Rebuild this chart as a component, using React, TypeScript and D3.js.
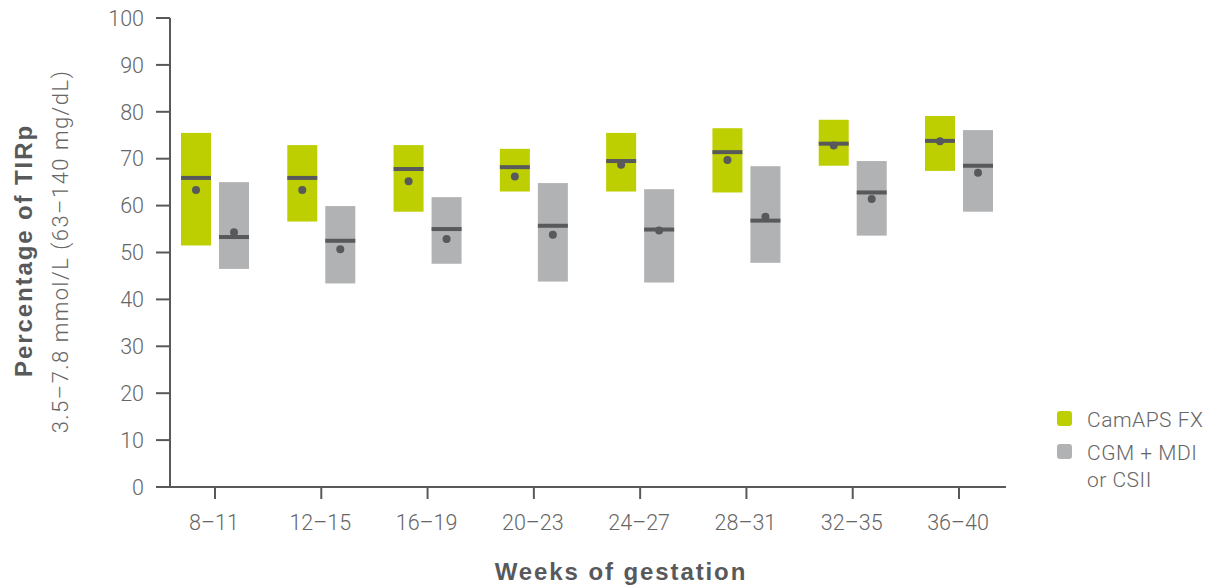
import * as d3 from "d3";

// weeks of gestation
const categories = ["8–11", "12–15", "16–19", "20–23", "24–27", "28–31", "32–35", "36–40"];

// CamAPS FX: interquartile range, median, mean
const camLow = [51.5, 56.6, 58.7, 63.0, 63.0, 62.8, 68.5, 67.4];
const camHigh = [75.5, 72.9, 72.9, 72.1, 75.5, 76.5, 78.3, 79.1];
const camMedian = [65.9, 65.9, 67.8, 68.2, 69.5, 71.4, 73.2, 73.8];
const camMean = [63.3, 63.3, 65.2, 66.2, 68.7, 69.7, 72.8, 73.7];

// CGM + MDI or CSII
const cgmLow = [46.5, 43.4, 47.6, 43.8, 43.6, 47.8, 53.6, 58.7];
const cgmHigh = [65.0, 59.9, 61.8, 64.8, 63.5, 68.4, 69.5, 76.1];
const cgmMedian = [53.3, 52.5, 55.0, 55.7, 54.9, 56.8, 62.8, 68.5];
const cgmMean = [54.3, 50.7, 52.9, 53.8, 54.7, 57.6, 61.4, 67.0];

const yTicks = [0, 10, 20, 30, 40, 50, 60, 70, 80, 90, 100];

const W = 1215;
const H = 587;
const axisColor = "#58595B";
const green = "#BDCF00";
const gray = "#B1B2B3";
const light = "Roboto, 'Liberation Sans', sans-serif";
const bold = "'Liberation Sans', Arial, sans-serif";

export default function App() {
  const x = d3.scalePoint<string>().domain(categories).range([215, 959]);
  const y = d3.scaleLinear().domain([0, 100]).range([487, 18]);
  const boxW = 30;
  const off = 19;

  const series = [
    { color: green, low: camLow, high: camHigh, med: camMedian, mean: camMean, dx: -off },
    { color: gray, low: cgmLow, high: cgmHigh, med: cgmMedian, mean: cgmMean, dx: off },
  ];

  return (
    <svg width={W} height={H} style={{ position: "absolute", left: 0, top: 0, background: "#fff" }}>
      {/* boxes */}
      {series.map((s, si) => (
        <g key={si}>
          {categories.map((c, i) => {
            const cx = (x(c) as number) + s.dx;
            return (
              <g key={c}>
                <rect x={cx - boxW / 2} width={boxW} y={y(s.high[i])} height={y(s.low[i]) - y(s.high[i])} fill={s.color} />
                <rect x={cx - boxW / 2} width={boxW} y={y(s.med[i]) - 2} height={4} fill={axisColor} />
                <circle cx={cx} cy={y(s.mean[i])} r={4} fill={axisColor} />
              </g>
            );
          })}
        </g>
      ))}

      {/* y axis */}
      <line x1={170} x2={170} y1={y(100)} y2={y(0) + 1} stroke={axisColor} strokeWidth={2} />
      {yTicks.map((t) => (
        <g key={t}>
          <line x1={156} x2={170} y1={y(t)} y2={y(t)} stroke={axisColor} strokeWidth={2} />
          <text x={144} y={y(t)} dy="0.36em" textAnchor="end" fontFamily={light} fontWeight={300} fontSize={21.5} fill="#666">
            {t}
          </text>
        </g>
      ))}

      {/* x axis */}
      <line x1={169} x2={1006} y1={y(0)} y2={y(0)} stroke={axisColor} strokeWidth={2} />
      {categories.map((c) => (
        <g key={c}>
          <line x1={x(c)} x2={x(c)} y1={y(0)} y2={y(0) + 12} stroke={axisColor} strokeWidth={2} />
          <text x={(x(c) as number) - 1} y={530} textAnchor="middle" fontFamily={light} fontWeight={300} fontSize={21.5} fill="#666">
            {c}
          </text>
        </g>
      ))}

      {/* axis titles */}
      <text transform="translate(32,250.5) rotate(-90)" textAnchor="middle" fontFamily={bold} fontWeight={700} fontSize={24} letterSpacing={1.9} fill={axisColor}>
        Percentage of TIRp
      </text>
      <text transform="translate(68,251.5) rotate(-90)" textAnchor="middle" fontFamily={light} fontWeight={300} fontSize={22} letterSpacing={1.5} fill="#666">
        3.5–7.8 mmol/L (63–140 mg/dL)
      </text>
      <text x={621} y={580} textAnchor="middle" fontFamily={bold} fontWeight={700} fontSize={24} letterSpacing={1.9} fill={axisColor}>
        Weeks of gestation
      </text>

      {/* legend */}
      <rect x={1057} y={411} width={15} height={15} rx={3} fill={green} />
      <text x={1087} y={427} fontFamily={light} fontWeight={300} fontSize={21} letterSpacing={0.5} fill="#666">CamAPS FX</text>
      <rect x={1057} y={444} width={15} height={15} rx={3} fill={gray} />
      <text x={1087} y={460} fontFamily={light} fontWeight={300} fontSize={21} letterSpacing={0.5} fill="#666">CGM + MDI</text>
      <text x={1087} y={487} fontFamily={light} fontWeight={300} fontSize={21} letterSpacing={0.5} fill="#666">or CSII</text>
    </svg>
  );
}
